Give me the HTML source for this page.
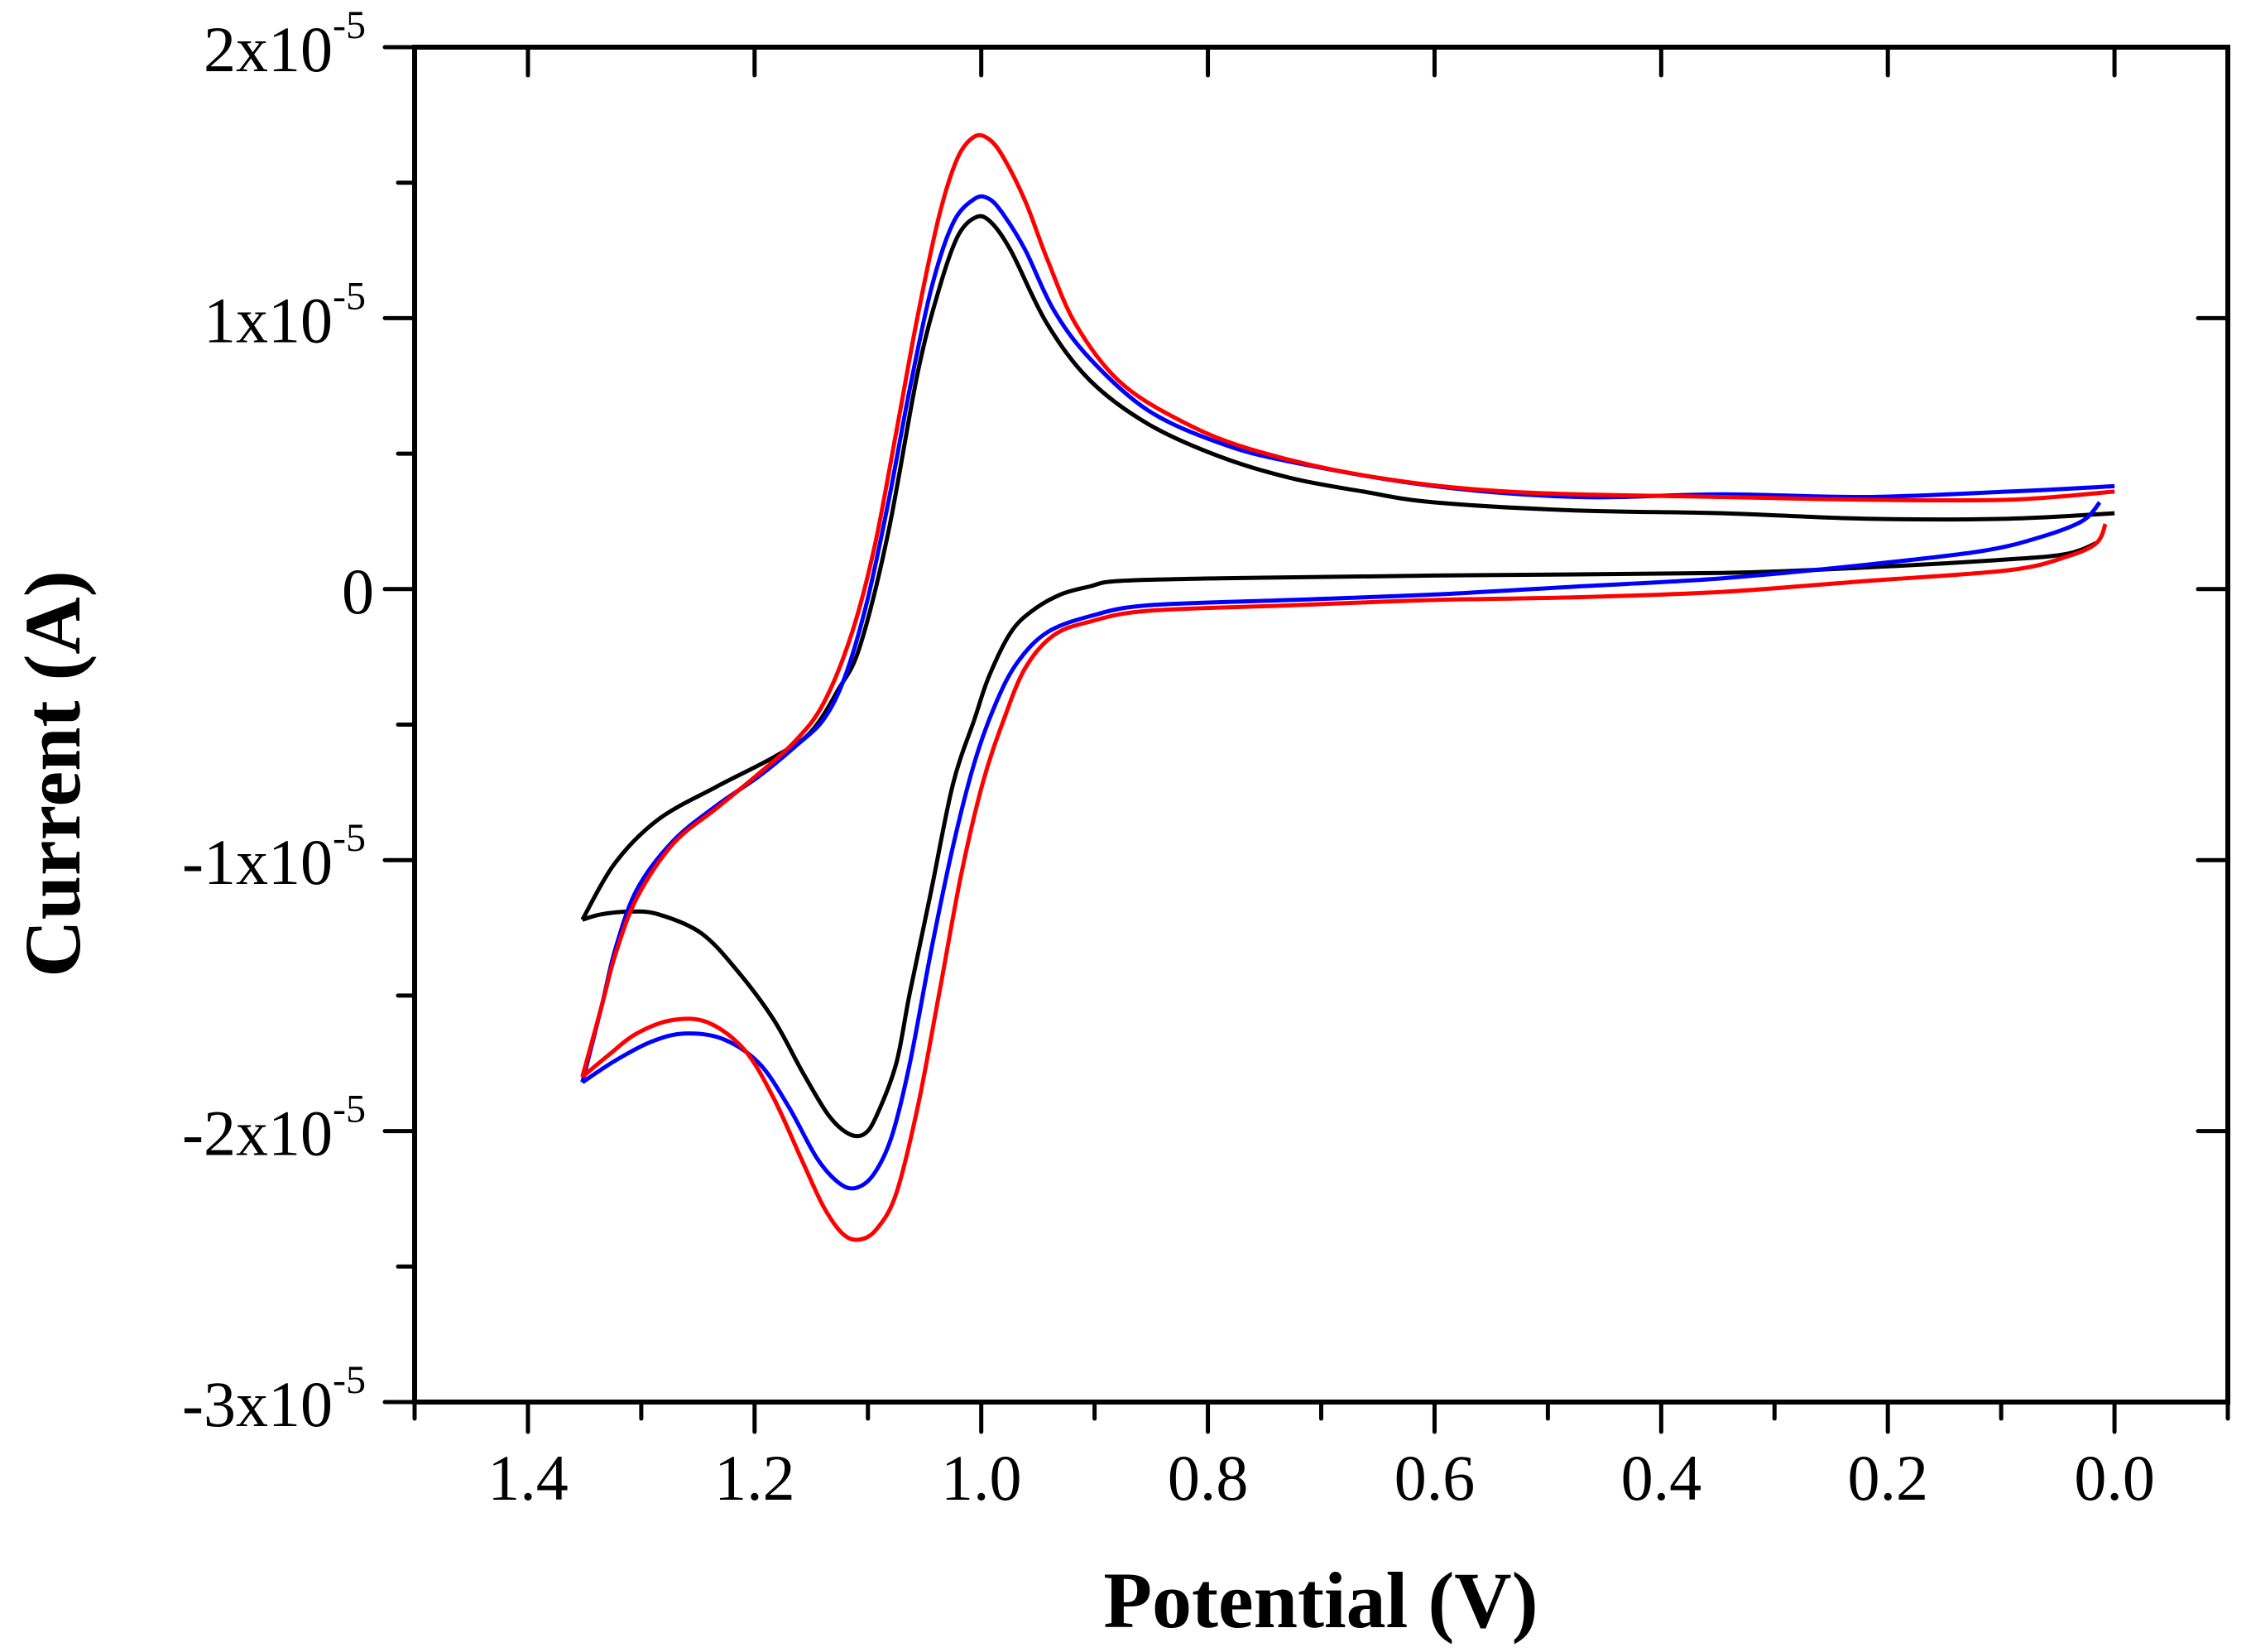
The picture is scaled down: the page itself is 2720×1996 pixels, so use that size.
<!DOCTYPE html>
<html><head><meta charset="utf-8"><style>
html,body{margin:0;padding:0;background:#fff}
svg{display:block}
text{font-family:"Liberation Serif","Times New Roman",serif;fill:#000}
</style></head><body>
<svg id="chart" width="2720" height="1996" viewBox="0 0 2720 1996" xmlns="http://www.w3.org/2000/svg">
<g id="curves"></g>
<g id="axes"></g>
<text x="1596" y="1966" font-size="96" font-weight="bold" text-anchor="middle">Potential (V)</text>
<text transform="translate(96,935) rotate(-90)" font-size="96" font-weight="bold" text-anchor="middle">Current (A)</text>
</svg>
<script>
// x tick labels (V), y ticks (units of 1e-5 A)
const xTicks = [1.4, 1.2, 1.0, 0.8, 0.6, 0.4, 0.2, 0.0];
const xTickLabels = ["1.4","1.2","1.0","0.8","0.6","0.4","0.2","0.0"];
const yTicks = [2, 1, 0, -1, -2, -3];
const yTickLabels = ["2x10","1x10","0","-1x10","-2x10","-3x10"];
// Series data: [potential V, current x1e-5 A]
const blackE = [1.352,1.323,1.285,1.234,1.183,1.151,1.126,1.107,1.082,1.056,1.037,1.021,1.006,0.993,0.974,0.942,0.904,0.853,0.790,0.727,0.663,0.600,0.473,0.346,0.219,0.093,0.0];
const blackI = [-1.22,-1.01,-0.85,-0.73,-0.62,-0.53,-0.37,-0.21,0.21,0.80,1.11,1.30,1.37,1.36,1.25,0.98,0.77,0.61,0.49,0.41,0.36,0.32,0.29,0.28,0.26,0.26,0.28];
const blackRevE = [0.016,0.042,0.093,0.219,0.346,0.600,0.790,0.879,0.904,0.930,0.955,0.974,0.993,1.006,1.025,1.044,1.063,1.075,1.092,1.103,1.117,1.135,1.158,1.183,1.215,1.247,1.285,1.310,1.335,1.352];
const blackRevI = [0.17,0.13,0.11,0.08,0.06,0.05,0.04,0.03,0.01,-0.02,-0.08,-0.16,-0.32,-0.48,-0.72,-1.11,-1.49,-1.75,-1.94,-2.01,-2.01,-1.94,-1.78,-1.59,-1.41,-1.27,-1.20,-1.19,-1.20,-1.22];
const blueE = [1.352,1.335,1.323,1.304,1.272,1.234,1.196,1.164,1.139,1.120,1.101,1.082,1.063,1.044,1.025,1.006,0.993,0.980,0.961,0.936,0.904,0.853,0.790,0.727,0.600,0.473,0.346,0.219,0.093,0.0];
const blueI = [-1.82,-1.54,-1.33,-1.11,-0.93,-0.80,-0.69,-0.58,-0.48,-0.32,-0.05,0.32,0.74,1.11,1.35,1.44,1.44,1.38,1.25,1.03,0.85,0.66,0.54,0.47,0.38,0.34,0.35,0.34,0.36,0.38];
const blueRevE = [0.013,0.029,0.067,0.118,0.219,0.346,0.473,0.600,0.727,0.853,0.904,0.942,0.968,0.987,1.006,1.025,1.044,1.063,1.079,1.095,1.111,1.126,1.145,1.170,1.196,1.228,1.262,1.291,1.323,1.352];
const blueRevI = [0.32,0.25,0.19,0.14,0.09,0.04,0.01,-0.02,-0.04,-0.06,-0.10,-0.16,-0.27,-0.42,-0.64,-0.95,-1.33,-1.75,-2.02,-2.16,-2.21,-2.19,-2.10,-1.91,-1.75,-1.66,-1.64,-1.67,-1.74,-1.82];
const redE = [1.352,1.335,1.323,1.304,1.272,1.234,1.196,1.164,1.139,1.114,1.094,1.075,1.056,1.037,1.021,1.006,0.993,0.980,0.961,0.942,0.917,0.879,0.828,0.765,0.663,0.536,0.346,0.219,0.093,0.0];
const redI = [-1.80,-1.54,-1.35,-1.14,-0.94,-0.81,-0.68,-0.56,-0.42,-0.16,0.16,0.58,1.01,1.38,1.59,1.67,1.66,1.59,1.43,1.22,0.98,0.77,0.63,0.52,0.42,0.36,0.34,0.33,0.33,0.36];
const redRevE = [0.008,0.016,0.042,0.093,0.219,0.346,0.473,0.600,0.727,0.853,0.904,0.936,0.961,0.980,0.999,1.018,1.037,1.056,1.075,1.092,1.107,1.122,1.139,1.158,1.183,1.209,1.241,1.272,1.304,1.329,1.352];
const redRevI = [0.24,0.17,0.12,0.07,0.03,-0.01,-0.03,-0.04,-0.06,-0.08,-0.12,-0.17,-0.29,-0.48,-0.72,-1.06,-1.49,-1.91,-2.23,-2.36,-2.40,-2.38,-2.28,-2.11,-1.88,-1.70,-1.60,-1.59,-1.64,-1.72,-1.80];

const L=501,R=2692,T=57,B=1694;
const X0=1.5,X1=-0.1,Y0=2,Y1=-3;
function sx(v){return L+(X0-v)/(X0-X1)*(R-L);}
function sy(v){return T+(Y0-v)/(Y0-Y1)*(B-T);}
const NS="http://www.w3.org/2000/svg";
function mk(tag,attrs,parent){const e=document.createElementNS(NS,tag);for(const k in attrs)e.setAttribute(k,attrs[k]);parent.appendChild(e);return e;}
const curves=document.getElementById('curves'), axes=document.getElementById('axes');
function smoothPath(P){
  let d='M'+P[0][0].toFixed(1)+','+P[0][1].toFixed(1);
  for(let i=0;i<P.length-1;i++){
    const p0=P[Math.max(0,i-1)],p1=P[i],p2=P[i+1],p3=P[Math.min(P.length-1,i+2)];
    const c1x=p1[0]+(p2[0]-p0[0])/6, c1y=p1[1]+(p2[1]-p0[1])/6;
    const c2x=p2[0]-(p3[0]-p1[0])/6, c2y=p2[1]-(p3[1]-p1[1])/6;
    d+=' C'+c1x.toFixed(1)+','+c1y.toFixed(1)+' '+c2x.toFixed(1)+','+c2y.toFixed(1)+' '+p2[0].toFixed(1)+','+p2[1].toFixed(1);
  }
  return d;
}
function series(E,I,color,name){
  const pts=E.map((e,i)=>[sx(e),sy(I[i])]);
  const p=mk('path',{d:smoothPath(pts),fill:'none',stroke:color,'stroke-width':5,'stroke-linejoin':'round'},curves);
  
  
}
series(blackE,blackI,'#000','black-forward-scan');
series(blackRevE,blackRevI,'#000','black-reverse-scan');
series(blueE,blueI,'#0000ff','blue-forward-scan');
series(blueRevE,blueRevI,'#0000ff','blue-reverse-scan');
series(redE,redI,'#ff0000','red-forward-scan');
series(redRevE,redRevI,'#ff0000','red-reverse-scan');

const frame=mk('rect',{x:L,y:T,width:R-L,height:B-T,fill:'none',stroke:'#000','stroke-width':6},axes);


// x ticks
for(let k=0;k<=16;k++){
  const v=1.5-k*0.1; const x=sx(v); const major=(k%2===1);
  const t=mk('line',{x1:x,y1:B,x2:x,y2:B+(major?36:20),stroke:'#000','stroke-width':5,'stroke-linecap':'round'},axes);
  
  
  if(major){
    const tt=mk('line',{x1:x,y1:T,x2:x,y2:T+34,stroke:'#000','stroke-width':5,'stroke-linecap':'round'},axes);
    
    
  }
}
xTicks.forEach((v,i)=>{
  const t=mk('text',{x:sx(v),y:1812,'font-size':78,'text-anchor':'middle'},axes);
  t.textContent=xTickLabels[i];
  
  
});
// y ticks
for(let k=0;k<=10;k++){
  const v=2-k*0.5; const y=sy(v); const major=(k%2===0);
  const t=mk('line',{x1:L,y1:y,x2:L-(major?36:20),y2:y,stroke:'#000','stroke-width':5,'stroke-linecap':'round'},axes);
  
  
  if(major){
    const rt=mk('line',{x1:R,y1:y,x2:R-36,y2:y,stroke:'#000','stroke-width':5,'stroke-linecap':'round'},axes);
    
    
  }
}
yTicks.forEach((v,i)=>{
  const t=mk('text',{x:442,y:sy(v)+29,'font-size':78,'text-anchor':'end'},axes);
  
  
  if(v===0){t.setAttribute('x',452);t.textContent='0';}
  else{
    const a=document.createElementNS(NS,'tspan');a.textContent=yTickLabels[i];t.appendChild(a);
    const s=document.createElementNS(NS,'tspan');s.textContent='-5';s.setAttribute('font-size','48');s.setAttribute('dy','-40');t.appendChild(s);
  }
});
</script>
</body></html>
